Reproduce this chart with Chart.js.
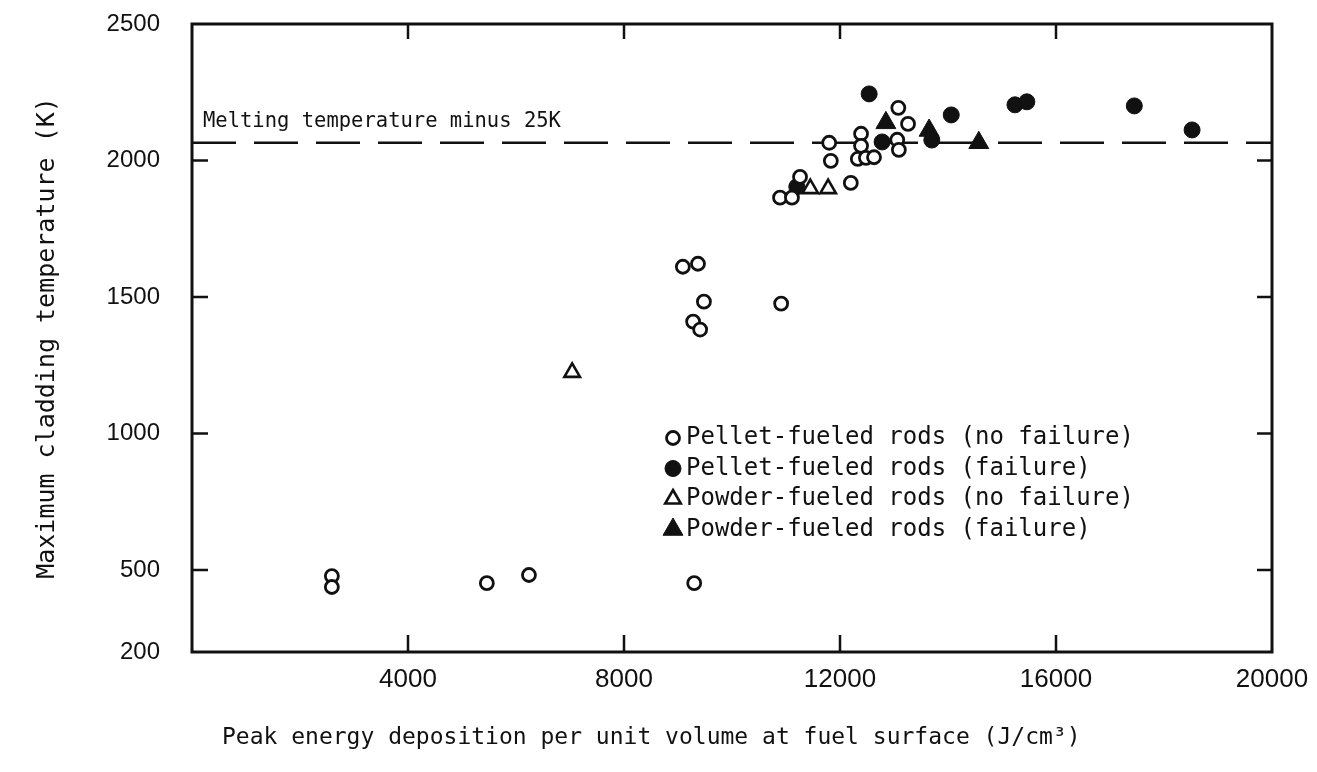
<!DOCTYPE html>
<html>
<head>
<meta charset="utf-8">
<title>Maximum cladding temperature</title>
<script src="https://cdn.jsdelivr.net/npm/chart.js@4.4.1/dist/chart.umd.min.js"></script>
<style>
  html, body { margin: 0; padding: 0; background: #fff; }
  #wrap { width: 1317px; height: 772px; position: relative; }
</style>
</head>
<body>
<div id="wrap"><canvas id="cladding"></canvas></div>
<script>
// axis ticks
const xTicks = [4000, 8000, 12000, 16000, 20000];
const yTicks = [200, 500, 1000, 1500, 2000, 2500];

// melting temperature minus 25 K
const meltLine = 2065;

// pellet-fueled rods, no failure
const pelletOkX = [2590, 2590, 5460, 6240, 9300, 9090, 9370, 9480, 9280, 9410, 10910,
  10890, 11110, 11260, 11800, 11830, 12200, 12390, 12390, 12330, 12480, 12630,
  13060, 13090, 13080, 13260];
const pelletOkY = [478, 438, 452, 482, 452, 1611, 1622, 1483, 1410, 1381, 1476,
  1864, 1864, 1940, 2065, 1999, 1918, 2098, 2054, 2006, 2010, 2012,
  2076, 2039, 2193, 2134];

// pellet-fueled rods, failure
const pelletFailX = [11200, 12540, 12780, 13700, 14060, 15240, 15460, 17450, 18520];
const pelletFailY = [1904, 2244, 2068, 2075, 2167, 2204, 2215, 2200, 2112];

// powder-fueled rods, no failure
const powderOkX = [7040, 11450, 11780];
const powderOkY = [1224, 1897, 1897];

// powder-fueled rods, failure
const powderFailX = [12850, 13650, 14570];
const powderFailY = [2138, 2110, 2065];

const legendLabels = [
  'Pellet-fueled rods (no failure)',
  'Pellet-fueled rods (failure)',
  'Powder-fueled rods (no failure)',
  'Powder-fueled rods (failure)'
];

const xTitle = 'Peak energy deposition per unit volume at fuel surface (J/cm\u00B3)';
const yTitle = 'Maximum cladding temperature (K)';
const meltLabel = 'Melting temperature minus 25K';

const ink = '#111';
const mono = '"DejaVu Sans Mono", "Liberation Mono", monospace';

function pts(xs, ys) {
  return xs.map((x, i) => ({x: x, y: ys[i]}));
}

const markers = [
  {style: 'circle', radius: 6.5, fill: '#fff', border: 2.8},
  {style: 'circle', radius: 8, fill: ink, border: 1},
  {style: 'triangle', radius: 9, fill: '#fff', border: 2.6},
  {style: 'triangle', radius: 11.5, fill: ink, border: 1}
];

function drawMarker(ctx, m, x, y) {
  ctx.save();
  ctx.fillStyle = m.fill;
  ctx.strokeStyle = ink;
  ctx.lineWidth = m.border;
  ctx.beginPath();
  if (m.style === 'circle') {
    ctx.arc(x, y, m.radius, 0, Math.PI * 2);
  } else {
    const r = m.radius;
    ctx.moveTo(x, y - r);
    ctx.lineTo(x + r * Math.sin(Math.PI / 3), y + r / 2);
    ctx.lineTo(x - r * Math.sin(Math.PI / 3), y + r / 2);
    ctx.closePath();
  }
  ctx.fill();
  ctx.stroke();
  ctx.restore();
}

// box frame with inward tick marks, the legend and the loose labels
const framePlugin = {
  id: 'frame',
  beforeDatasetsDraw(chart) {
    const {ctx, chartArea: a, scales: {x, y}} = chart;
    ctx.save();
    ctx.strokeStyle = ink;
    ctx.lineWidth = 3;
    ctx.strokeRect(a.left, a.top, a.right - a.left, a.bottom - a.top);
    ctx.lineWidth = 2.5;
    ctx.beginPath();
    xTicks.forEach(v => {
      if (v <= x.min || v >= x.max) return;
      const px = x.getPixelForValue(v);
      ctx.moveTo(px, a.bottom); ctx.lineTo(px, a.bottom - 17);
      ctx.moveTo(px, a.top); ctx.lineTo(px, a.top + 15);
    });
    yTicks.forEach(v => {
      if (v <= y.min || v >= y.max) return;
      const py = y.getPixelForValue(v);
      ctx.moveTo(a.left, py); ctx.lineTo(a.left + 16, py);
      ctx.moveTo(a.right, py); ctx.lineTo(a.right - 15, py);
    });
    ctx.stroke();
    ctx.restore();
  },
  afterDraw(chart) {
    const {ctx, chartArea: a, scales: {x, y}} = chart;
    ctx.save();
    ctx.fillStyle = ink;
    ctx.textBaseline = 'middle';
    ctx.textAlign = 'left';

    // label over the dashed line
    ctx.font = '20.5px ' + mono;
    ctx.fillText(meltLabel, a.left + 11, y.getPixelForValue(meltLine) - 21);

    // legend inside the plot
    ctx.font = '24px ' + mono;
    legendLabels.forEach((t, i) => {
      const ly = 438 + i * 30.5;
      drawMarker(ctx, markers[i], 673, ly);
      ctx.fillStyle = ink;
      ctx.fillText(t, 686, ly);
    });

    // x axis title
    ctx.font = '23px ' + mono;
    ctx.fillText(xTitle, 222, 738);
    ctx.restore();
  }
};

const scatterSet = (label, data, m) => ({
  type: 'scatter',
  label: label,
  data: data,
  order: 0,
  pointStyle: m.style,
  pointRadius: m.radius,
  pointBackgroundColor: m.fill,
  pointBorderColor: ink,
  pointBorderWidth: m.border,
  showLine: false
});

new Chart(document.getElementById('cladding'), {
  type: 'scatter',
  data: {
    datasets: [
      {
        type: 'line',
        label: 'melt',
        data: [{x: 0, y: meltLine}, {x: 20000, y: meltLine}],
        order: 10,
        borderColor: ink,
        borderWidth: 2.6,
        borderDash: [44, 18],
        pointRadius: 0,
        fill: false
      },
      scatterSet(legendLabels[0], pts(pelletOkX, pelletOkY), markers[0]),
      scatterSet(legendLabels[1], pts(pelletFailX, pelletFailY), markers[1]),
      scatterSet(legendLabels[2], pts(powderOkX, powderOkY), markers[2]),
      scatterSet(legendLabels[3], pts(powderFailX, powderFailY), markers[3])
    ]
  },
  options: {
    responsive: true,
    maintainAspectRatio: false,
    animation: false,
    events: [],
    layout: {padding: {top: 24, right: 45, bottom: 0, left: 0}},
    plugins: {
      legend: {display: false},
      tooltip: {enabled: false}
    },
    scales: {
      x: {
        type: 'linear',
        min: 0,
        max: 20000,
        afterBuildTicks: s => { s.ticks = xTicks.map(v => ({value: v})); },
        afterFit: s => {
          s.height = 120;
          s.paddingLeft = 0;
          s.paddingRight = 0;
        },
        grid: {display: false, drawTicks: false},
        border: {display: false},
        ticks: {
          color: ink,
          padding: 12,
          maxRotation: 0,
          autoSkip: false,
          font: {family: '"Liberation Sans", Arial, sans-serif', size: 26},
          callback: v => String(v)
        }
      },
      y: {
        type: 'linear',
        min: 200,
        max: 2500,
        afterBuildTicks: s => { s.ticks = yTicks.map(v => ({value: v})); },
        afterFit: s => {
          s.width = 192;
          // the tick padding is horizontal only; keep it off the top and bottom
          s.paddingTop = 0;
          s.paddingBottom = 0;
        },
        grid: {display: false, drawTicks: false},
        border: {display: false},
        ticks: {
          color: ink,
          padding: 32,
          autoSkip: false,
          font: {family: '"Liberation Sans", Arial, sans-serif', size: 24},
          callback: v => String(v)
        },
        title: {
          display: true,
          text: yTitle,
          color: ink,
          padding: {top: 32, bottom: 0},
          font: {family: mono, size: 25}
        }
      }
    }
  },
  plugins: [framePlugin]
});
</script>
</body>
</html>
